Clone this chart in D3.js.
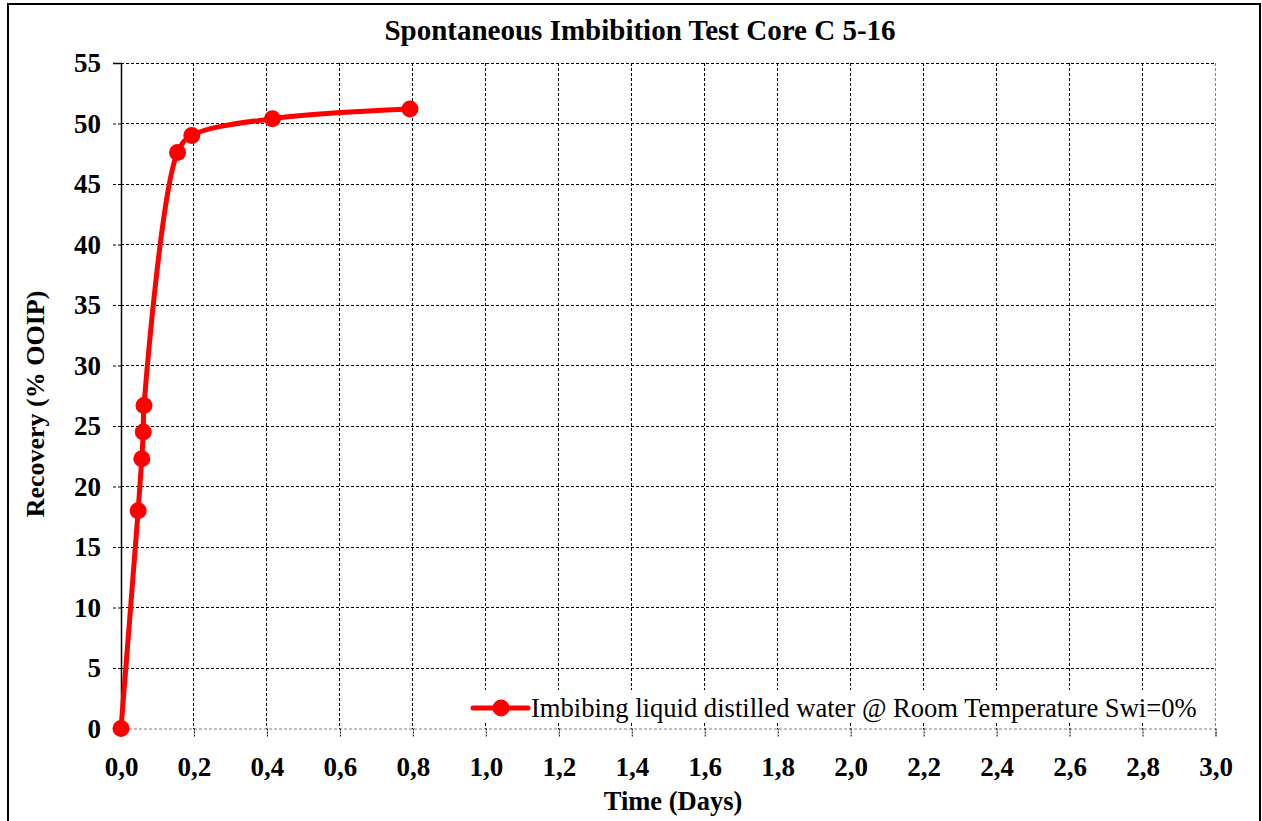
<!DOCTYPE html>
<html>
<head>
<meta charset="utf-8">
<script src="https://cdn.jsdelivr.net/npm/d3@7"></script>
<style>
  html, body { margin: 0; padding: 0; background: #fff; }
  svg { display: block; }
</style>
</head>
<body>
<svg id="chart" width="1262" height="821"></svg>
<script>
// ---- data ----
const timeDays = [0, 0.047, 0.057, 0.061, 0.063, 0.155, 0.194, 0.415, 0.792];
const recovery = [0, 18.0, 22.3, 24.5, 26.7, 47.6, 49.0, 50.4, 51.2];
const xTickValues = [0, 0.2, 0.4, 0.6, 0.8, 1.0, 1.2, 1.4, 1.6, 1.8, 2.0, 2.2, 2.4, 2.6, 2.8, 3.0];
const yTickValues = [0, 5, 10, 15, 20, 25, 30, 35, 40, 45, 50, 55];
const titleText = "Spontaneous Imbibition Test Core C 5-16";
const xLabel = "Time (Days)";
const yLabel = "Recovery (% OOIP)";
const seriesName = "Imbibing liquid distilled water @ Room Temperature Swi=0%";

const svg = d3.select("#chart");
const serif = "'Liberation Serif', 'Times New Roman', serif";

const plotL = 121, plotR = 1215.5, plotT = 63, plotB = 728.5;
const x = d3.scaleLinear().domain([0, 3]).range([plotL, plotR]);
const y = d3.scaleLinear().domain([0, 55]).range([plotB, plotT]);

// outer frame
svg.append("rect").attr("x", 8).attr("y", 4).attr("width", 1252).attr("height", 830)
  .attr("fill", "#fff").attr("stroke", "#000").attr("stroke-width", 2);

// gridlines
const grid = svg.append("g");
grid.selectAll("line.v").data(xTickValues.filter(d => d > 0)).join("line")
  .attr("x1", d => x(d)).attr("x2", d => x(d)).attr("y1", plotT).attr("y2", plotB)
  .attr("stroke", d => d === 3 ? "#808080" : "#000").attr("stroke-width", 1)
  .attr("stroke-dasharray", "3,2").attr("shape-rendering", "crispEdges");
grid.selectAll("line.h").data(yTickValues.filter(d => d > 0)).join("line")
  .attr("x1", plotL).attr("x2", plotR).attr("y1", d => y(d)).attr("y2", d => y(d))
  .attr("stroke", "#000").attr("stroke-width", 1)
  .attr("stroke-dasharray", "3,2").attr("shape-rendering", "crispEdges");

// x axis (dashed gray baseline) with ticks
const xAxis = svg.append("g").attr("transform", `translate(0,${plotB})`)
  .call(d3.axisBottom(x).tickValues(xTickValues).tickSize(8).tickPadding(20)
    .tickFormat(d => d3.format(".1f")(d).replace(".", ",")));
xAxis.select(".domain").attr("stroke", "#808080").attr("stroke-dasharray", "3,2");
xAxis.selectAll(".tick line").attr("stroke", "#000").attr("stroke-dasharray", "2,1");
xAxis.selectAll(".tick text").attr("font-family", serif).attr("font-size", 27)
  .attr("font-weight", "bold").attr("fill", "#000");

// y axis
const yAxis = svg.append("g").attr("transform", `translate(${plotL},0)`)
  .call(d3.axisLeft(y).tickValues(yTickValues).tickSize(8).tickPadding(12));
yAxis.select(".domain").attr("stroke", "#000").attr("stroke-width", 1.5);
yAxis.selectAll(".tick line").attr("stroke", "#000").attr("stroke-dasharray", "3,2");
yAxis.selectAll(".tick text").attr("font-family", serif).attr("font-size", 27)
  .attr("font-weight", "bold").attr("fill", "#000");

// series
const pts = timeDays.map((t, i) => [t, recovery[i]]);
const line = d3.line().x(d => x(d[0])).y(d => y(d[1])).curve(d3.curveCatmullRom.alpha(0.5));
svg.append("path").datum(pts).attr("d", line).attr("fill", "none")
  .attr("stroke", "#ff0000").attr("stroke-width", 5).attr("stroke-linejoin", "round");
svg.append("g").selectAll("circle").data(pts).join("circle")
  .attr("cx", d => x(d[0])).attr("cy", d => y(d[1])).attr("r", 8.5).attr("fill", "#ff0000");

// legend
const lg = svg.append("g");
lg.append("rect").attr("x", 470).attr("y", 690).attr("width", 743).attr("height", 32).attr("fill", "#fff");
lg.append("line").attr("x1", 473).attr("x2", 528).attr("y1", 708).attr("y2", 708)
  .attr("stroke", "#ff0000").attr("stroke-width", 5).attr("stroke-linecap", "round");
lg.append("circle").attr("cx", 501).attr("cy", 708).attr("r", 8.5).attr("fill", "#ff0000");
lg.append("text").attr("x", 531).attr("y", 717).attr("font-family", serif).attr("font-size", 26.6)
  .attr("fill", "#000").text(seriesName);

// title
svg.append("text").attr("x", 640).attr("y", 40).attr("text-anchor", "middle")
  .attr("font-family", serif).attr("font-size", 29).attr("font-weight", "bold").text(titleText);
// axis titles
svg.append("text").attr("x", 673).attr("y", 810).attr("text-anchor", "middle")
  .attr("font-family", serif).attr("font-size", 26.5).attr("font-weight", "bold").text(xLabel);
svg.append("text").attr("transform", "translate(44,404) rotate(-90)").attr("text-anchor", "middle")
  .attr("font-family", serif).attr("font-size", 26).attr("font-weight", "bold").text(yLabel);
</script>
</body>
</html>
